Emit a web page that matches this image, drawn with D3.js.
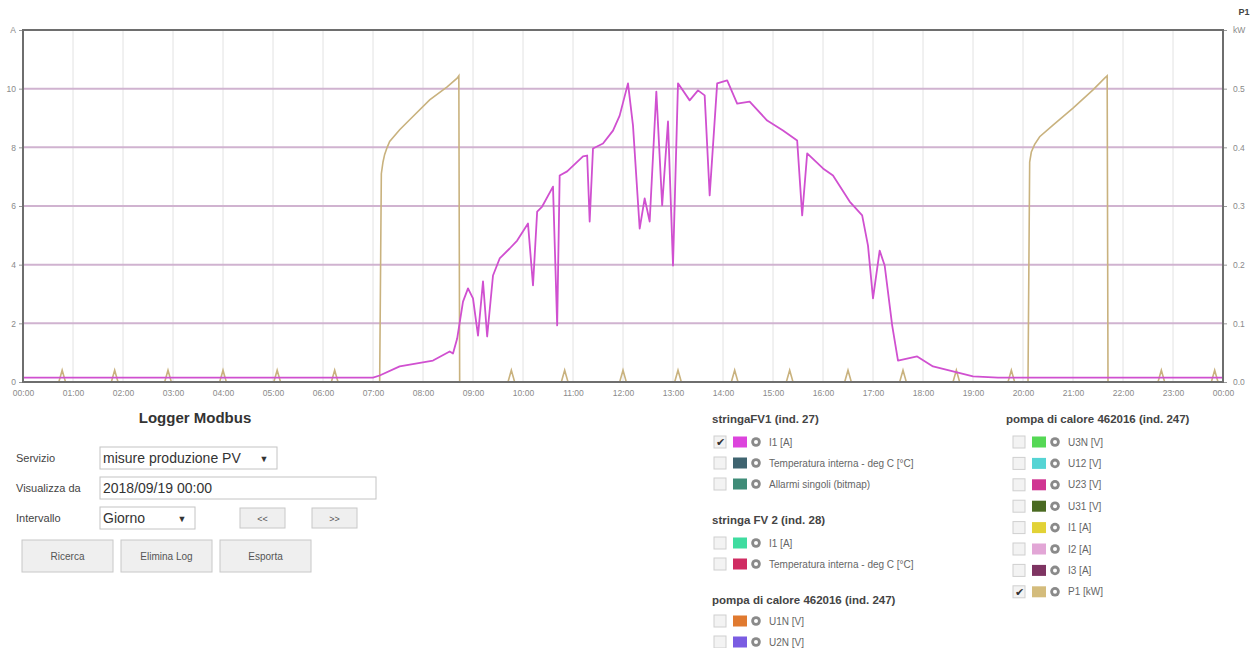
<!DOCTYPE html>
<html><head><meta charset="utf-8">
<script src="https://cdn.jsdelivr.net/npm/d3@7"></script>
<style>
html,body{margin:0;padding:0;background:#fff;}
svg{display:block;font-family:Arial,"Liberation Sans",sans-serif;}
</style></head>
<body><svg id="c" width="1255" height="648"></svg>
<script>
// ---------- DATA ----------
const xTickLabels = ["00:00","01:00","02:00","03:00","04:00","05:00","06:00","07:00","08:00","09:00","10:00","11:00","12:00","13:00","14:00","15:00","16:00","17:00","18:00","19:00","20:00","21:00","22:00","23:00","00:00"];
const leftTicks = [0,2,4,6,8,10];
const leftTopLabel = "A";
const rightTicks = [0.0,0.1,0.2,0.3,0.4,0.5];
const rightTopLabel = "kW";

// I1 [A] stringaFV1 (left axis)
const i1Times = ["00:00","07:00","07:08","07:32","08:12","08:32","08:36","08:41","08:48","08:54","09:00","09:06","09:12","09:17","09:24","09:32","09:44","09:53","10:06","10:12","10:17","10:23","10:36","10:41","10:44","10:53","11:12","11:17","11:20","11:24","11:36","11:48","11:56","12:06","12:12","12:20","12:26","12:32","12:40","12:47","12:54","13:00","13:06","13:20","13:30","13:38","13:44","13:53","14:05","14:17","14:32","14:53","15:12","15:29","15:35","15:41","16:00","16:12","16:32","16:47","16:54","17:00","17:08","17:14","17:23","17:30","17:53","18:12","18:36","19:00","19:30","24:00"];
const i1Values = [0.1,0.1,0.17,0.48,0.68,0.99,0.92,1.43,2.69,3.14,2.80,1.53,3.38,1.50,3.58,4.16,4.50,4.77,5.35,3.24,5.76,5.93,6.61,1.88,6.99,7.13,7.64,7.67,5.42,7.91,8.08,8.52,9.03,10.13,8.69,5.18,6.21,5.42,9.85,5.97,8.83,3.92,10.13,9.55,9.89,9.72,6.31,10.13,10.23,9.44,9.51,8.86,8.52,8.18,5.63,7.74,7.23,6.99,6.10,5.63,4.60,2.80,4.43,3.92,1.88,0.68,0.82,0.48,0.31,0.14,0.1,0.1];

// P1 [kW] pompa di calore (right axis)
const p1Times = ["00:00","00:43","00:47","00:51","01:46","01:50","01:54","02:50","02:54","02:58","03:56","04:00","04:04","05:01","05:05","05:09","06:10","06:14","06:18","07:08","07:10","07:12","07:14","07:17","07:20","07:32","07:44","08:08","08:29","08:41","08:43","08:44","09:42","09:46","09:50","10:46","10:50","10:54","11:56","12:00","12:04","13:02","13:06","13:10","14:10","14:14","14:18","15:16","15:20","15:24","16:26","16:30","16:34","17:32","17:36","17:40","18:36","18:40","18:44","19:42","19:46","19:50","20:06","20:08","20:10","20:14","20:20","20:36","21:00","21:24","21:38","21:41","21:42","22:42","22:46","22:50","23:46","23:50","23:54","24:00"];
const p1Values = [0,0,0.02,0,0,0.02,0,0,0.02,0,0,0.02,0,0,0.02,0,0,0.02,0,0,0.355,0.375,0.388,0.400,0.410,0.430,0.447,0.481,0.503,0.518,0.522,0,0,0.02,0,0,0.02,0,0,0.02,0,0,0.02,0,0,0.02,0,0,0.02,0,0,0.02,0,0,0.02,0,0,0.02,0,0,0.02,0,0,0.375,0.392,0.405,0.418,0.438,0.467,0.498,0.518,0.522,0,0,0.02,0,0,0.02,0,0];

// Form
const formTitle = "Logger Modbus";
const formLabels = ["Servizio","Visualizza da","Intervallo"];
const formValues = ["misure produzione PV","2018/09/19 00:00","Giorno"];
const navButtons = ["<<",">>"];
const actionButtons = ["Ricerca","Elimina Log","Esporta"];

// Legend groups
const legendGroup1 = "stringaFV1 (ind. 27)";
const legendItems1 = ["I1 [A]","Temperatura interna - deg C [°C]","Allarmi singoli (bitmap)"];
const legendColors1 = ["#dd44dd","#3f6470","#3f8c78"];
const legendChecked1 = [true,false,false];
const legendGroup2 = "stringa FV 2 (ind. 28)";
const legendItems2 = ["I1 [A]","Temperatura interna - deg C [°C]"];
const legendColors2 = ["#3fdca0","#d02c62"];
const legendGroup3 = "pompa di calore 462016 (ind. 247)";
const legendItems3 = ["U1N [V]","U2N [V]"];
const legendColors3 = ["#e07a30","#7a5ce2"];
const legendGroup4 = "pompa di calore 462016 (ind. 247)";
const legendItems4 = ["U3N [V]","U12 [V]","U23 [V]","U31 [V]","I1 [A]","I2 [A]","I3 [A]","P1 [kW]"];
const legendColors4 = ["#55d855","#55d4d4","#d03592","#4a6a22","#e2d236","#e2a6d6","#7e3462","#d4bc7c"];
const legendChecked4 = [false,false,false,false,false,false,false,true];

// ---------- CHART ----------
const svg = d3.select("#c");
const base = new Date(2018,8,19,0,0);
const parseT = s => { const [h,m] = s.split(":").map(Number); return new Date(base.getTime() + (h*60+m)*60000); };
const x0 = 23, x1 = 1223, yTop = 30, yBot = 382;
const x = d3.scaleTime().domain([base, new Date(base.getTime()+24*3600000)]).range([x0,x1]);
const yL = d3.scaleLinear().domain([0,12]).range([yBot,yTop]);
const yR = d3.scaleLinear().domain([0,0.6]).range([yBot,yTop]);
const hours = x.ticks(d3.timeHour.every(1));

// vertical grid
svg.append("g").selectAll("line").data(hours).join("line")
  .attr("x1",d=>x(d)).attr("x2",d=>x(d)).attr("y1",yTop).attr("y2",yBot)
  .attr("stroke","#e2e2e2").attr("stroke-width",1);
// horizontal grid
svg.append("g").selectAll("line").data(leftTicks.slice(1)).join("line")
  .attr("x1",x0).attr("x2",x1).attr("y1",d=>yL(d)).attr("y2",d=>yL(d))
  .attr("stroke","#d0b3d0").attr("stroke-width",2);

// lines
const p1 = p1Times.map((t,i)=>({t:parseT(t),v:p1Values[i]}));
const i1 = i1Times.map((t,i)=>({t:parseT(t),v:i1Values[i]}));
svg.append("path").datum(p1).attr("fill","none").attr("stroke","#c9b27e").attr("stroke-width",1.6)
  .attr("d",d3.line().x(d=>x(d.t)).y(d=>yR(d.v)));
svg.append("path").datum(i1).attr("fill","none").attr("stroke","#d050d0").attr("stroke-width",1.8)
  .attr("stroke-linejoin","round")
  .attr("d",d3.line().x(d=>x(d.t)).y(d=>yL(d.v)-1.5));

// border
svg.append("rect").attr("x",x0).attr("y",yTop).attr("width",x1-x0).attr("height",yBot-yTop)
  .attr("fill","none").attr("stroke","#6e6e6e").attr("stroke-width",2);

// axes
const axB = svg.append("g").attr("transform",`translate(0,${yBot+1})`)
  .call(d3.axisBottom(x).tickValues(hours).tickSize(0).tickPadding(7).tickFormat((d,i)=>xTickLabels[i]));
const axL = svg.append("g").attr("transform",`translate(${x0-1},0)`)
  .call(d3.axisLeft(yL).tickValues(leftTicks.concat([12])).tickSize(3).tickPadding(3).tickFormat(d=>d===12?leftTopLabel:d));
const axR = svg.append("g").attr("transform",`translate(${x1+1},0)`)
  .call(d3.axisRight(yR).tickValues(rightTicks.concat([0.6])).tickSize(3).tickPadding(6).tickFormat(d=>d===0.6?rightTopLabel:d3.format(".1f")(d)));
[axB,axL,axR].forEach(a=>{
  a.select(".domain").remove();
  a.selectAll("text").attr("font-size",8.5).attr("fill","#8a8a8a").attr("font-family","Arial,sans-serif");
  a.selectAll("line").attr("stroke","#999");
});
svg.append("text").attr("x",1244).attr("y",15).attr("text-anchor","middle").attr("font-size",9)
  .attr("font-weight","bold").attr("fill","#444").text("P1");

// ---------- FORM ----------
const f = svg.append("g").attr("font-family","Arial,sans-serif");
f.append("text").attr("x",195).attr("y",423).attr("text-anchor","middle").attr("font-size",15)
  .attr("font-weight","bold").attr("fill","#333").text(formTitle);
const rowsY = [458,488,518];
formLabels.forEach((l,i)=>f.append("text").attr("x",16).attr("y",rowsY[i]+4).attr("font-size",11).attr("fill","#444").text(l));
const boxW = [177,276,95];
formValues.forEach((v,i)=>{
  f.append("rect").attr("x",100).attr("y",rowsY[i]-11).attr("width",boxW[i]).attr("height",22)
    .attr("fill","#fff").attr("stroke","#c4c4c4");
  f.append("text").attr("x",103).attr("y",rowsY[i]+5).attr("font-size",14).attr("fill","#333").text(v);
  if(i!==1) f.append("text").attr("x",100+boxW[i]-13).attr("y",rowsY[i]+4).attr("font-size",9).attr("fill","#333").attr("text-anchor","middle").text("▼");
});
const btn = (bx,by,bw,bh,t,fs)=>{
  f.append("rect").attr("x",bx).attr("y",by).attr("width",bw).attr("height",bh).attr("fill","#efefef").attr("stroke","#c8c8c8");
  f.append("text").attr("x",bx+bw/2).attr("y",by+bh/2+3.5).attr("text-anchor","middle").attr("font-size",fs).attr("fill","#555").text(t);
};
navButtons.forEach((t,i)=>btn(240+i*72,508,45,20,t,9));
actionButtons.forEach((t,i)=>btn(22+i*99,540,91,32,t,10));

// ---------- LEGEND ----------
const lg = svg.append("g").attr("font-family","Arial,sans-serif");
function header(xh,yh,t){ lg.append("text").attr("x",xh).attr("y",yh).attr("font-size",11.5).attr("font-weight","bold").attr("fill","#444").text(t); }
function item(xi,yi,label,color,checked){
  lg.append("rect").attr("x",xi).attr("y",yi-6).attr("width",12).attr("height",12).attr("fill","#f3f3f3").attr("stroke","#cfcfcf");
  if(checked) lg.append("text").attr("x",xi+6).attr("y",yi+4).attr("text-anchor","middle").attr("font-size",11).attr("fill","#333").text("✔");
  lg.append("rect").attr("x",xi+19).attr("y",yi-5.5).attr("width",14).attr("height",11).attr("fill",color);
  lg.append("circle").attr("cx",xi+42).attr("cy",yi).attr("r",4.8).attr("fill","#8a8a8a");
  lg.append("circle").attr("cx",xi+42).attr("cy",yi).attr("r",2).attr("fill","#fff");
  lg.append("text").attr("x",xi+55).attr("y",yi+3.5).attr("font-size",10).attr("fill","#666").text(label);
}
header(712,423,legendGroup1);
legendItems1.forEach((l,i)=>item(714,442+i*21,l,legendColors1[i],legendChecked1[i]));
header(712,524,legendGroup2);
legendItems2.forEach((l,i)=>item(714,543+i*21,l,legendColors2[i],false));
header(712,604,legendGroup3);
legendItems3.forEach((l,i)=>item(714,621+i*21,l,legendColors3[i],false));
header(1006,423,legendGroup4);
legendItems4.forEach((l,i)=>item(1013,442+i*21.4,l,legendColors4[i],legendChecked4[i]));
</script></body></html>
